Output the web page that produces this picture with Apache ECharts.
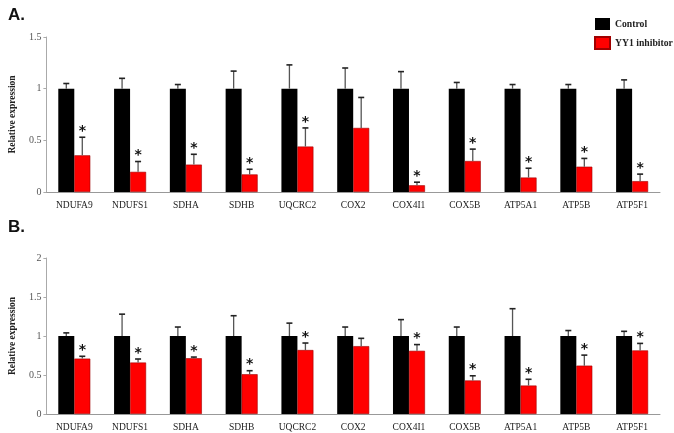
<!DOCTYPE html>
<html>
<head>
<meta charset="utf-8">
<script src="https://cdn.jsdelivr.net/npm/echarts@6/dist/echarts.min.js"></script>
<style>
  html, body { margin: 0; padding: 0; background: #fff; }
  #chart { width: 674px; height: 433px; }
</style>
</head>
<body>
<div id="chart"></div>
<script>
// genes on the x axis (same for both panels)
const genes = ['NDUFA9', 'NDUFS1', 'SDHA', 'SDHB', 'UQCRC2', 'COX2', 'COX4I1', 'COX5B', 'ATP5A1', 'ATP5B', 'ATP5F1'];

// panel A
const ctrlA = [1, 1, 1, 1, 1, 1, 1, 1, 1, 1, 1];
const ctrlErrA = [0.05, 0.10, 0.04, 0.17, 0.23, 0.20, 0.165, 0.06, 0.04, 0.04, 0.085];
const yy1A = [0.355, 0.195, 0.265, 0.17, 0.44, 0.62, 0.065, 0.30, 0.14, 0.245, 0.105];
const yy1ErrA = [0.175, 0.10, 0.10, 0.05, 0.18, 0.295, 0.03, 0.115, 0.09, 0.08, 0.068];
const sigA = [1, 1, 1, 1, 1, 0, 1, 1, 1, 1, 1];

// panel B
const ctrlB = [1, 1, 1, 1, 1, 1, 1, 1, 1, 1, 1];
const ctrlErrB = [0.04, 0.28, 0.115, 0.26, 0.165, 0.115, 0.21, 0.115, 0.35, 0.07, 0.06];
const yy1B = [0.71, 0.66, 0.715, 0.51, 0.82, 0.87, 0.81, 0.43, 0.365, 0.62, 0.815];
const yy1ErrB = [0.03, 0.045, 0.015, 0.045, 0.09, 0.10, 0.08, 0.06, 0.08, 0.135, 0.09];
const sigB = [1, 1, 1, 1, 1, 0, 1, 1, 1, 1, 1];

const serif = '"Liberation Serif", "Times New Roman", serif';
const BAR_W = 16;

// error bar (upper only) + significance star
function errSeries(idx, vals, errs, sig, off) {
  const data = vals.map((v, i) => [i, v, v + errs[i], sig ? sig[i] : 0]);
  return {
    type: 'custom',
    xAxisIndex: idx,
    yAxisIndex: idx,
    z: 5,
    silent: true,
    data: data,
    renderItem: function (params, api) {
      const i = api.value(0);
      const p0 = api.coord([i, api.value(1)]);
      const p1 = api.coord([i, api.value(2)]);
      const x = p0[0] + off;
      const kids = [
        { type: 'line', shape: { x1: x, y1: p0[1], x2: x, y2: p1[1] }, style: { stroke: '#555', lineWidth: 1.3 } },
        { type: 'line', shape: { x1: x - 3, y1: p1[1], x2: x + 3, y2: p1[1] }, style: { stroke: '#222', lineWidth: 1.6 } }
      ];
      if (api.value(3)) {
        kids.push({
          type: 'text',
          style: { x: x, y: p1[1] + 1, text: '*', fill: '#111', font: 'bold 14px "DejaVu Sans", sans-serif', align: 'center', verticalAlign: 'bottom' }
        });
      }
      return { type: 'group', children: kids };
    }
  };
}

function xAx(idx) {
  return {
    type: 'category', gridIndex: idx, data: genes,
    axisLine: { lineStyle: { color: '#999', width: 1 } },
    axisTick: { show: false },
    axisLabel: { color: '#222', fontFamily: serif, fontSize: 9.5, margin: 8 }
  };
}

function yAx(idx, max) {
  return {
    type: 'value', gridIndex: idx, min: 0, max: max, interval: 0.5,
    name: 'Relative expression', nameLocation: 'middle', nameGap: 22,
    nameTextStyle: { fontFamily: serif, fontWeight: 'bold', fontSize: 9.5, color: '#222' },
    splitLine: { show: false },
    axisLine: { show: true, lineStyle: { color: '#aaa' } },
    axisTick: { show: true, length: 3, lineStyle: { color: '#aaa' } },
    axisLabel: { color: '#555', fontFamily: serif, fontSize: 10, margin: 5 }
  };
}

const chart = echarts.init(document.getElementById('chart'));
chart.setOption({
  animation: false,
  title: [
    { text: 'A.', left: 3, top: 2, textStyle: { fontSize: 17, fontWeight: 'bold', color: '#111', fontFamily: '"Liberation Sans", Arial, sans-serif' } },
    { text: 'B.', left: 3, top: 214, textStyle: { fontSize: 17, fontWeight: 'bold', color: '#111', fontFamily: '"Liberation Sans", Arial, sans-serif' } }
  ],
  legend: {
    orient: 'vertical', left: 589, top: 13, itemWidth: 15, itemHeight: 12, itemGap: 6,
    icon: 'rect',
    textStyle: { fontFamily: serif, fontWeight: 'bold', fontSize: 9.7, color: '#222' },
    data: ['Control', 'YY1 inhibitor']
  },
  grid: [
    { left: 35, right: 14, top: 37, height: 155 },
    { left: 35, right: 14, top: 258, height: 156 }
  ],
  xAxis: [xAx(0), xAx(1)],
  yAxis: [yAx(0, 1.5), yAx(1, 2)],
  series: [
    { name: 'Control', type: 'bar', xAxisIndex: 0, yAxisIndex: 0, data: ctrlA, barWidth: BAR_W, barGap: '0%', itemStyle: { color: '#000' } },
    { name: 'YY1 inhibitor', type: 'bar', xAxisIndex: 0, yAxisIndex: 0, data: yy1A, barWidth: BAR_W, barGap: '0%', itemStyle: { color: '#ff0000', borderColor: '#a00000', borderWidth: 0.6 } },
    { name: 'Control', type: 'bar', xAxisIndex: 1, yAxisIndex: 1, data: ctrlB, barWidth: BAR_W, barGap: '0%', itemStyle: { color: '#000' } },
    { name: 'YY1 inhibitor', type: 'bar', xAxisIndex: 1, yAxisIndex: 1, data: yy1B, barWidth: BAR_W, barGap: '0%', itemStyle: { color: '#ff0000', borderColor: '#a00000', borderWidth: 0.6 } },
    errSeries(0, ctrlA, ctrlErrA, null, -BAR_W / 2),
    errSeries(0, yy1A, yy1ErrA, sigA, BAR_W / 2),
    errSeries(1, ctrlB, ctrlErrB, null, -BAR_W / 2),
    errSeries(1, yy1B, yy1ErrB, sigB, BAR_W / 2)
  ]
});
</script>
</body>
</html>
